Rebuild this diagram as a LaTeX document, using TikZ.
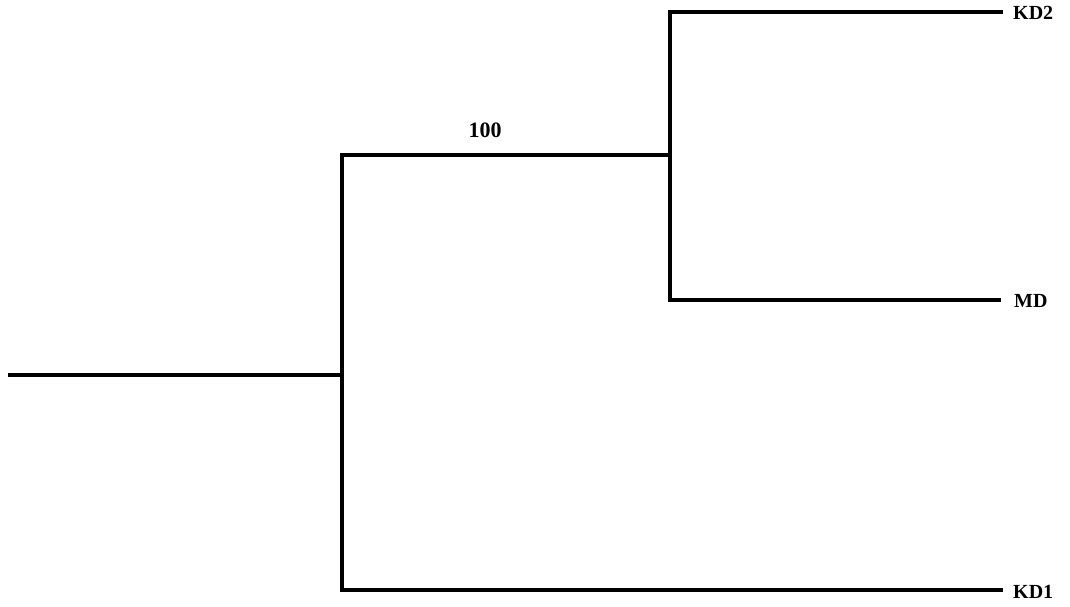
\documentclass[tikz,border=0pt]{standalone}
\usepackage{fontspec}
\setmainfont{Liberation Serif}
\begin{document}
\begin{tikzpicture}[x=1pt,y=-1pt,
  br/.style={line width=3.2pt,line cap=rect},
  lbl/.style={font=\bfseries\fontsize{20}{22}\selectfont,inner sep=0pt,anchor=west}]
\useasboundingbox (0,0) rectangle (1070,607);
\coordinate (r0) at (8,375);
\coordinate (r) at (342,375);
\coordinate (rt) at (342,155);
\coordinate (rb) at (342,590);
\coordinate (n) at (670,155);
\coordinate (nt) at (670,12);
\coordinate (nb) at (670,300);
\coordinate (e2) at (1003,12);
\coordinate (em) at (1001,300);
\coordinate (e1) at (1003,590);
\node[lbl] (kd2) at (1013,13) {KD2};
\node[lbl] (md) at (1014,301) {MD};
\node[lbl] (kd1) at (1013,592) {KD1};
\node[font=\bfseries\fontsize{22}{24}\selectfont,inner sep=0pt] (bs) at (485,130) {100};
\draw[br,line cap=butt] (r0) -- (r);
\draw[br] (rt) -- (rb);
\draw[br] (rt) -- (n);
\draw[br] (nt) -- (nb);
\draw[br,line cap=butt] (nt) -- (e2);
\draw[br,line cap=butt] (nb) -- (em);
\draw[br,line cap=butt] (rb) -- (e1);
\end{tikzpicture}
\end{document}
